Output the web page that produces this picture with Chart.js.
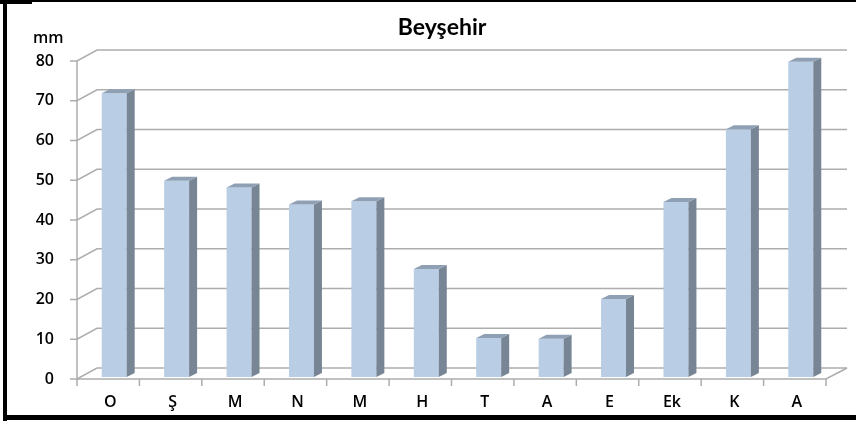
<!DOCTYPE html>
<html>
<head>
<meta charset="utf-8">
<script src="https://cdn.jsdelivr.net/npm/chart.js@4.4.1/dist/chart.umd.min.js"></script>
<style>
  body { margin: 0; background: #fff; }
</style>
</head>
<body>
<canvas id="rainChart" width="856" height="421"></canvas>
<script>
// monthly rainfall
const months = ["O", "Ş", "M", "N", "M", "H", "T", "A", "E", "Ek", "K", "A"];
const rainMm = [71.4, 49.4, 47.7, 43.4, 44.2, 27.2, 9.8, 9.6, 19.6, 44.0, 62.3, 79.3];
const yTicks = [0, 10, 20, 30, 40, 50, 60, 70, 80];
const titleText = "Beyşehir";
const unitText = "mm";

const FONT = "Lato, 'Open Sans', sans-serif";
const TICK_FONT = "'Open Sans', sans-serif";
const GRID = "#ADADAD";

// walls, floor and axis lines behind the bars (fake 3d like excel)
const wallPlugin = {
  id: "walls",
  beforeDatasetsDraw(chart) {
    const { ctx } = chart;
    const x = chart.scales.x, y = chart.scales.y;
    const step = (x.right - x.left) / months.length;
    const frontL = x.left - 6, frontR = x.right - 6;
    const backL = frontL + 20, backR = x.right + 15;

    ctx.save();
    ctx.strokeStyle = GRID;
    ctx.lineWidth = 1.5;
    yTicks.forEach(v => {
      const py = y.getPixelForValue(v);
      ctx.beginPath();
      ctx.moveTo(frontL - 7, py + 2);
      ctx.lineTo(frontL, py + 2);
      ctx.lineTo(backL, py - 9);
      ctx.lineTo(backR, py - 9);
      ctx.stroke();
    });
    // front left axis
    ctx.beginPath();
    ctx.moveTo(frontL, y.getPixelForValue(80) + 2);
    ctx.lineTo(frontL, y.getPixelForValue(0) + 2);
    ctx.stroke();
    // floor front edge + right side
    const fy = y.getPixelForValue(0) + 2;
    ctx.beginPath();
    ctx.moveTo(frontL, fy);
    ctx.lineTo(frontR, fy);
    ctx.lineTo(backR, fy - 11);
    ctx.stroke();
    // category ticks
    for (let k = 0; k <= months.length; k++) {
      const tx = frontL + step * k;
      ctx.beginPath();
      ctx.moveTo(tx, fy);
      ctx.lineTo(tx, fy + 7);
      ctx.stroke();
    }
    ctx.restore();
  },
  afterDatasetsDraw(chart) {
    const { ctx } = chart;
    const meta = chart.getDatasetMeta(0);
    const dx = 8, dy = -4;
    ctx.save();
    meta.data.forEach(bar => {
      const l = bar.x - bar.width / 2, r = bar.x + bar.width / 2;
      // side face
      ctx.fillStyle = "#778594";
      ctx.beginPath();
      ctx.moveTo(r, bar.y);
      ctx.lineTo(r + dx, bar.y + dy);
      ctx.lineTo(r + dx, bar.base + dy);
      ctx.lineTo(r, bar.base);
      ctx.closePath();
      ctx.fill();
      // top face
      ctx.fillStyle = "#8FA0B5";
      ctx.beginPath();
      ctx.moveTo(l, bar.y);
      ctx.lineTo(l + dx, bar.y + dy);
      ctx.lineTo(r + dx, bar.y + dy);
      ctx.lineTo(r, bar.y);
      ctx.closePath();
      ctx.fill();
    });
    ctx.restore();
  },
  afterDraw(chart) {
    const { ctx } = chart;
    ctx.save();
    ctx.fillStyle = "#000";
    ctx.textBaseline = "middle";
    ctx.font = "bold 23px " + FONT;
    ctx.textAlign = "center";
    ctx.fillText(titleText, 442, 28);
    ctx.font = "600 16px " + TICK_FONT;
    ctx.textAlign = "left";
    ctx.fillText(unitText, 33, 38);
    // black frame (no right side)
    ctx.fillRect(0, 0, 856, 2);
    ctx.fillRect(0, 0, 32, 4);
    ctx.fillRect(3, 0, 4, 421);
    ctx.fillRect(3, 415, 853, 5);
    ctx.restore();
  }
};

new Chart(document.getElementById("rainChart"), {
  type: "bar",
  data: {
    labels: months,
    datasets: [{
      data: rainMm,
      backgroundColor: "#B9CDE5",
      borderWidth: 0,
      categoryPercentage: 1,
      barPercentage: 0.4
    }]
  },
  options: {
    responsive: false,
    animation: false,
    devicePixelRatio: 1,
    layout: { padding: { left: 0, right: 24, top: 59, bottom: 0 } },
    plugins: { legend: { display: false }, tooltip: { enabled: false } },
    scales: {
      x: {
        grid: { display: false, drawTicks: false },
        border: { display: false },
        ticks: { color: "#000", font: { family: TICK_FONT, size: 16, weight: "600" }, padding: 16, labelOffset: -4 },
        afterFit(scale) { scale.height = 44; }
      },
      y: {
        min: 0,
        max: 80,
        grid: { display: false, drawTicks: false },
        border: { display: false },
        ticks: { stepSize: 10, color: "#000", font: { family: TICK_FONT, size: 16, weight: "600" }, padding: 29, labelOffset: 2 },
        afterFit(scale) { scale.width = 83; }
      }
    }
  },
  plugins: [wallPlugin]
});
</script>
</body>
</html>
